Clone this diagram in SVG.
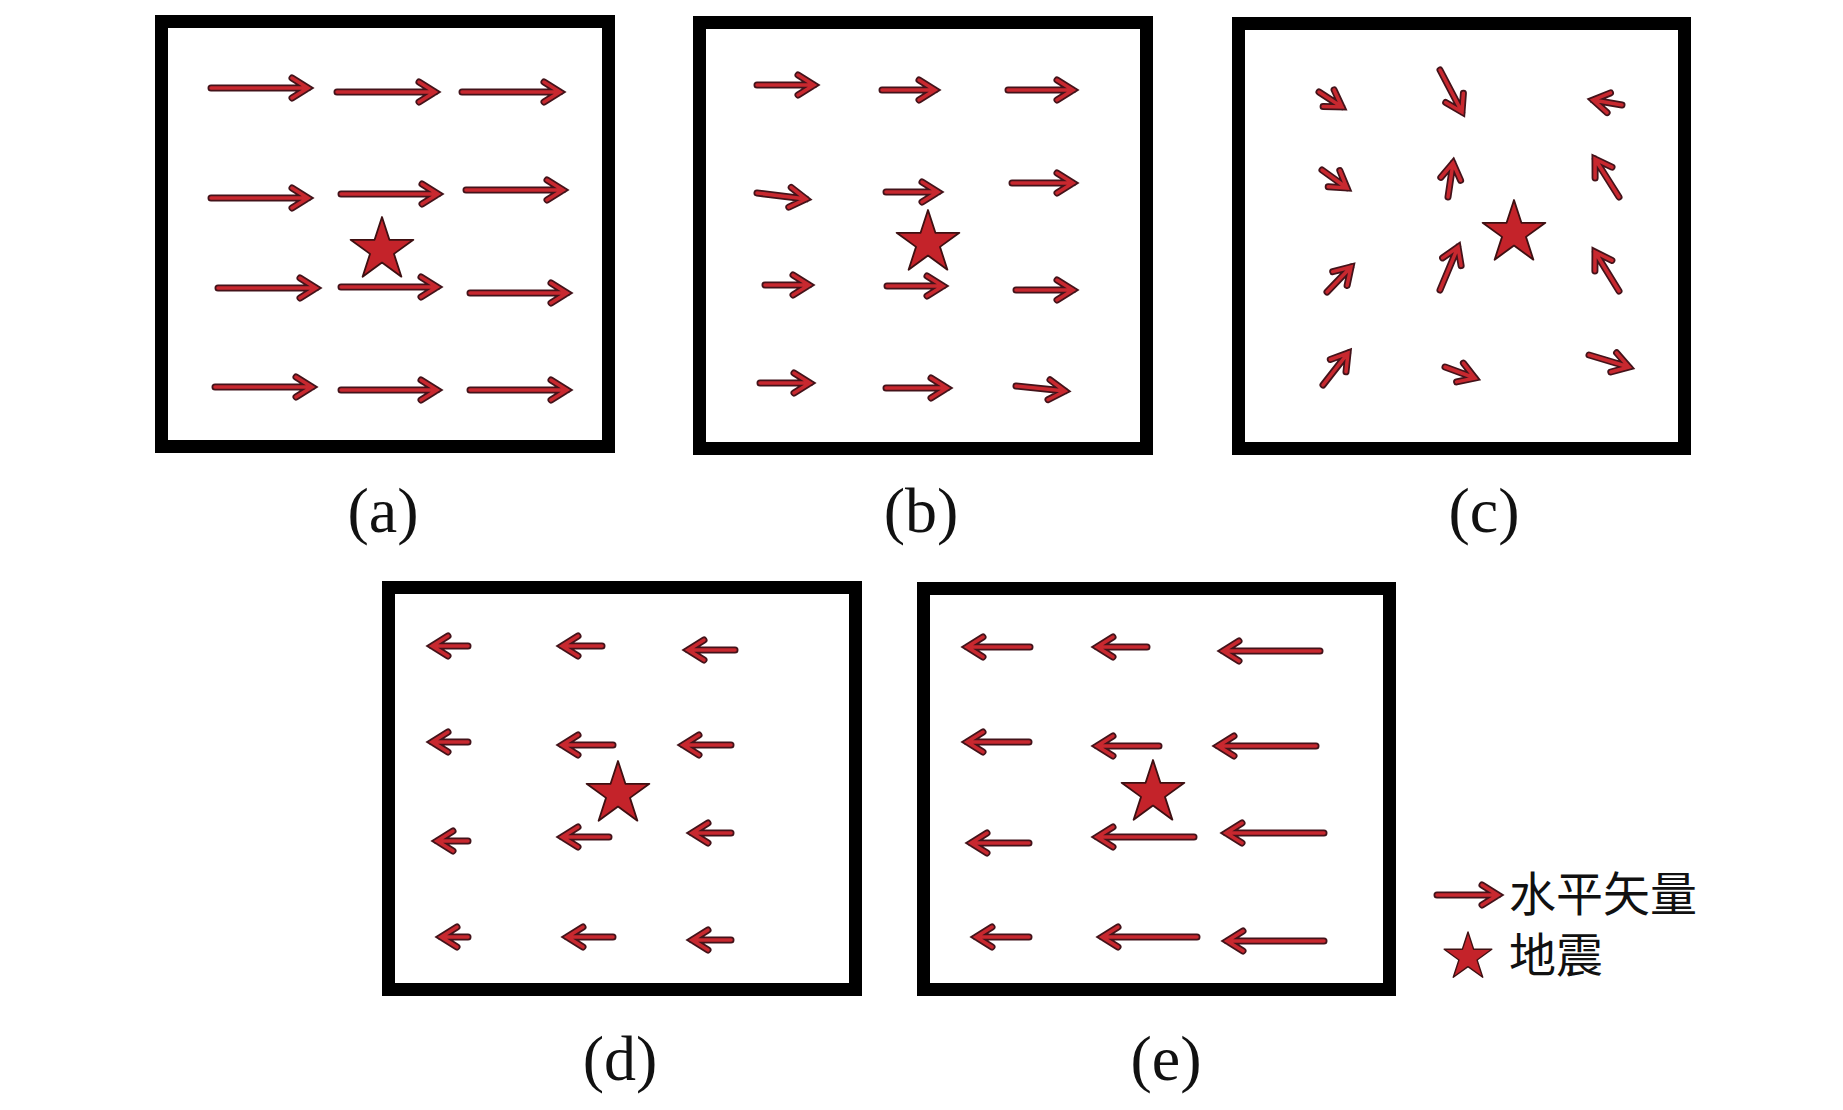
<svg xmlns="http://www.w3.org/2000/svg" xmlns:xlink="http://www.w3.org/1999/xlink" width="1843" height="1110" viewBox="0 0 1843 1110">
<style>
.frame{fill:none;stroke:#000;stroke-width:13}
.lbl{font-family:"Liberation Serif","Times New Roman",serif;font-size:64px;fill:#111;text-anchor:middle}
.leg{font-family:"Noto Sans CJK SC",sans-serif;font-size:47px;fill:#111}
.star{fill:#c4232a;stroke:#3e1012;stroke-width:1.8;stroke-linejoin:round}
</style>
<defs>
<path id="star" d="M0,-33 L7.41,-10.19 L31.38,-10.2 L11.98,3.89 L19.4,26.7 L0,12.6 L-19.4,26.7 L-11.98,3.89 L-31.38,-10.2 L-7.41,-10.19 Z"/>
<g id="vecs">
<!-- (a) -->
<path d="M211,88 H308 M292,78 L308,88 L292,98"/>
<path d="M337,92 H435 M419,82 L435,92 L419,102"/>
<path d="M462,92 H560 M544,82 L560,92 L544,102"/>
<path d="M211,198 H308 M292,188 L308,198 L292,208"/>
<path d="M341,194 H438 M422,184 L438,194 L422,204"/>
<path d="M466,190 H563 M547,180 L563,190 L547,200"/>
<path d="M218,288 H316 M300,278 L316,288 L300,298"/>
<path d="M341,287 H437 M421,277 L437,287 L421,297"/>
<path d="M470,293 H567 M551,283 L567,293 L551,303"/>
<path d="M215,387 H312 M296,377 L312,387 L296,397"/>
<path d="M341,390 H437 M421,380 L437,390 L421,400"/>
<path d="M470,390 H567 M551,380 L567,390 L551,400"/>
<!-- (b) -->
<path d="M757,85 H814 M798,75 L814,85 L798,95"/>
<path d="M882,90 H935 M919,80 L935,90 L919,100"/>
<path d="M1008,90 H1073 M1057,80 L1073,90 L1057,100"/>
<path d="M757,193 L806,199 M788.8,207.2 L806,199 L791.2,187.4"/>
<path d="M886,192 H938 M922,182 L938,192 L922,202"/>
<path d="M1012,183 H1073 M1057,173 L1073,183 L1057,193"/>
<path d="M765,285 H809 M793,275 L809,285 L793,295"/>
<path d="M887,286 H943 M927,276 L943,286 L927,296"/>
<path d="M1016,290 H1073 M1057,280 L1073,290 L1057,300"/>
<path d="M760,383 H810 M794,373 L810,383 L794,393"/>
<path d="M886,388 H947 M931,378 L947,388 L931,398"/>
<path d="M1016,386 L1065,391 M1048,399.7 L1065,391 L1050,379.8"/>
<!-- (c) -->
<path d="M1319,92 L1342,107 M1323.1,106.6 L1342,107 L1334.1,89.9"/>
<path d="M1440,70 L1462,112 M1445.7,102.5 L1462,112 L1463.4,93.2"/>
<path d="M1622,105 L1593,100 M1610.5,92.9 L1593,100 L1607.1,112.6"/>
<path d="M1322,170 L1347,188 M1328.2,186.8 L1347,188 L1339.8,170.5"/>
<path d="M1448,197 L1453,163 M1460.6,180.3 L1453,163 L1440.8,177.4"/>
<path d="M1619,197 L1595,159 M1612,167.2 L1595,159 L1595.1,177.9"/>
<path d="M1327,292 L1351,267 M1347.1,285.5 L1351,267 L1332.7,271.6"/>
<path d="M1440,290 L1458,247 M1461.1,265.6 L1458,247 L1442.6,257.9"/>
<path d="M1619,291 L1595,252 M1611.9,260.4 L1595,252 L1594.9,270.9"/>
<path d="M1323,385 L1348,353 M1346,371.8 L1348,353 L1330.3,359.5"/>
<path d="M1445,367 L1475,378 M1456.6,381.9 L1475,378 L1463.4,363.1"/>
<path d="M1589,355 L1629,367 M1610.8,372 L1629,367 L1616.6,352.8"/>
<!-- (d) -->
<path d="M468,646 H432 M448,636 L432,646 L448,656"/>
<path d="M602,646 H562 M578,636 L562,646 L578,656"/>
<path d="M735,650 H688 M704,640 L688,650 L704,660"/>
<path d="M468,742 H432 M448,732 L432,742 L448,752"/>
<path d="M613,745 H562 M578,735 L562,745 L578,755"/>
<path d="M731,745 H683 M699,735 L683,745 L699,755"/>
<path d="M468,841 H437 M453,831 L437,841 L453,851"/>
<path d="M609,837 H562 M578,827 L562,837 L578,847"/>
<path d="M731,833 H692 M708,823 L692,833 L708,843"/>
<path d="M468,937 H441 M457,927 L441,937 L457,947"/>
<path d="M613,937 H567 M583,927 L567,937 L583,947"/>
<path d="M731,940 H692 M708,930 L692,940 L708,950"/>
<!-- (e) -->
<path d="M1030,647 H967 M983,637 L967,647 L983,657"/>
<path d="M1147,647 H1097 M1113,637 L1097,647 L1113,657"/>
<path d="M1320,651 H1223 M1239,641 L1223,651 L1239,661"/>
<path d="M1029,742 H967 M983,732 L967,742 L983,752"/>
<path d="M1159,746 H1097 M1113,736 L1097,746 L1113,756"/>
<path d="M1316,746 H1218 M1234,736 L1218,746 L1234,756"/>
<path d="M1029,843 H971 M987,833 L971,843 L987,853"/>
<path d="M1194,837 H1097 M1113,827 L1097,837 L1113,847"/>
<path d="M1324,833 H1226 M1242,823 L1226,833 L1242,843"/>
<path d="M1029,937 H976 M992,927 L976,937 L992,947"/>
<path d="M1197,937 H1102 M1118,927 L1102,937 L1118,947"/>
<path d="M1324,941 H1227 M1243,931 L1227,941 L1243,951"/>
<!-- legend -->
<path d="M1437,895 H1498 M1482,885 L1498,895 L1482,905"/>
</g>
</defs>
<rect width="1843" height="1110" fill="#fff"/>

<g id="panel-a">
<rect class="frame" x="161.5" y="21.5" width="447" height="425"/>
<use href="#star" class="star" transform="translate(382,250)"/>
<text class="lbl" x="383" y="532">(a)</text>
</g>
<g id="panel-b">
<rect class="frame" x="699.5" y="22.5" width="447" height="426"/>
<use href="#star" class="star" transform="translate(928,243)"/>
<text class="lbl" x="921" y="532">(b)</text>
</g>
<g id="panel-c">
<rect class="frame" x="1238.5" y="23.5" width="446" height="425"/>
<use href="#star" class="star" transform="translate(1514,233)"/>
<text class="lbl" x="1484" y="532">(c)</text>
</g>
<g id="panel-d">
<rect class="frame" x="388.5" y="587.5" width="467" height="402"/>
<use href="#star" class="star" transform="translate(618,794)"/>
<text class="lbl" x="620" y="1080">(d)</text>
</g>
<g id="panel-e">
<rect class="frame" x="923.5" y="588.5" width="466" height="401"/>
<use href="#star" class="star" transform="translate(1153,793)"/>
<text class="lbl" x="1166" y="1080">(e)</text>
</g>

<g id="vectors" fill="none" stroke-linecap="round" stroke-linejoin="miter">
<use href="#vecs" stroke="#43131a" stroke-width="7"/>
<use href="#vecs" stroke="#c8282f" stroke-width="3.5"/>
</g>

<g id="legend">
<use href="#star" class="star" transform="translate(1468,957) scale(0.76)"/>
<text class="leg" x="1509" y="911">水平矢量</text>
<text class="leg" x="1509" y="972">地震</text>
</g>
</svg>
